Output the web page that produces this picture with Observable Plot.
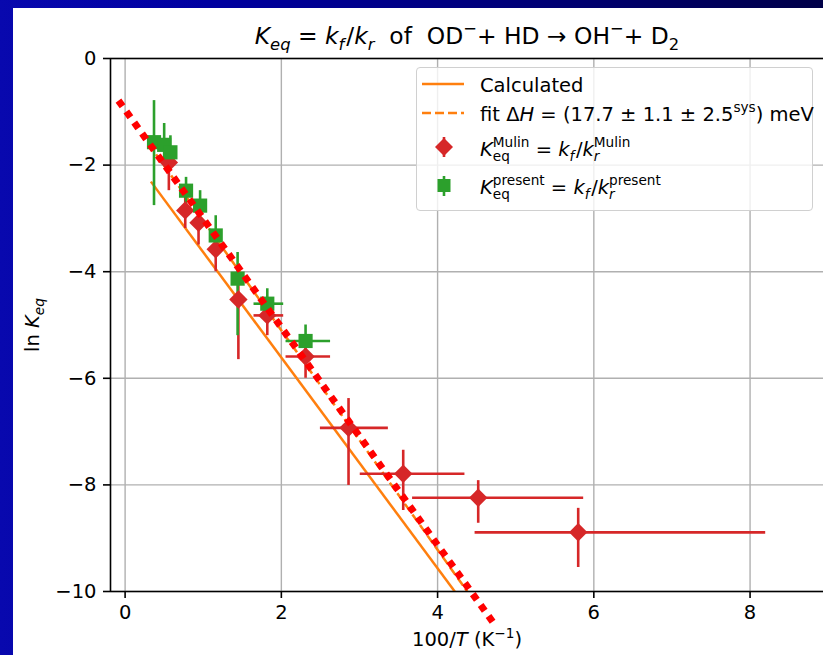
<!DOCTYPE html>
<html><head><meta charset="utf-8">
<script src="https://cdn.jsdelivr.net/npm/d3@7"></script>
<script src="https://cdn.jsdelivr.net/npm/@observablehq/plot@0.6"></script>
<style>
html,body{margin:0;padding:0}
body{width:823px;height:655px;overflow:hidden;position:relative;background:linear-gradient(to right,#0808ae 0%,#0000a0 25%,#000070 70%,#000048 100%);font-family:"DejaVu Sans",sans-serif;}
#chart{position:absolute;left:13px;top:8px;width:810px;height:647px;background:#fff;overflow:hidden}
#chart svg.plot{position:absolute;left:0;top:0}
.t{position:absolute;white-space:nowrap;color:#000;line-height:1;font-size:19.5px}
.sb{font-size:0.7em;position:relative;top:0.37em}
.sb.f{margin-right:0.12em}
.sp{font-size:0.7em;position:relative;top:-0.6em}
.ss{display:inline-grid;font-size:0.7em;line-height:0.85;vertical-align:baseline}
.ss>span{grid-area:1/1;position:relative}
.ss>.up{top:-0.59em}
.ss>.dn{top:0.4em}
#legend{position:absolute;left:403px;top:59px;width:395px;height:142px;border:1.3px solid #d0d0d0;border-radius:4px;background:rgba(255,255,255,0.8)}
</style>
</head><body>
<div id="chart"></div>
<script>
// ---- data ----
const xTicks = [0, 2, 4, 6, 8];
const yTicks = [0, -2, -4, -6, -8, -10];

const mulinX     = [0.56, 0.77, 0.94, 1.16, 1.45, 1.82, 2.31, 2.86, 3.56, 4.52, 5.80];
const mulinY     = [-1.95, -2.85, -3.08, -3.58, -4.52, -4.82, -5.59, -6.93, -7.79, -8.24, -8.89];
const mulinYLow  = [-2.48, -3.19, -3.50, -4.00, -5.65, -5.20, -6.00, -8.01, -8.48, -8.72, -9.55];
const mulinYHigh = [-1.60, -2.55, -2.75, -3.25, -3.90, -4.50, -5.25, -6.38, -7.35, -7.92, -8.44];
const mulinXLow  = [0.56, 0.77, 0.94, 1.16, 1.45, 1.65, 2.06, 2.50, 3.01, 3.68, 4.48];
const mulinXHigh = [0.56, 0.77, 0.94, 1.16, 1.45, 2.03, 2.63, 3.37, 4.35, 5.87, 8.20];

const presentX     = [0.37, 0.50, 0.58, 0.78, 0.96, 1.16, 1.44, 1.82, 2.31];
const presentY     = [-1.57, -1.62, -1.76, -2.48, -2.76, -3.32, -4.13, -4.60, -5.30];
const presentYLow  = [-2.76, -1.95, -2.10, -2.75, -3.05, -3.70, -5.20, -4.97, -5.42];
const presentYHigh = [-0.79, -1.22, -1.45, -2.23, -2.48, -2.95, -3.64, -4.32, -5.00];
const presentXLow  = [0.37, 0.50, 0.58, 0.78, 0.96, 1.16, 1.44, 1.65, 2.06];
const presentXHigh = [0.37, 0.50, 0.58, 0.78, 0.96, 1.16, 1.44, 2.03, 2.63];

const calcX = [0.33, 4.22];
const calcY = [-2.31, -10.0];
const fitX = [0.30, 4.38];
const fitY = [-1.60, -10.0];
const guideX = [-0.085, 4.74];
const guideY = [-0.79, -10.64];

const xMin = -0.187, xMax = 8.94, yMin = -10, yMax = 0;

// ---- build ----
const red = "#d62728", green = "#2ca02c", orange = "#ff7f0e";
const M = mulinX.map((x, i) => ({x, y: mulinY[i], y1: mulinYLow[i], y2: mulinYHigh[i], x1: mulinXLow[i], x2: mulinXHigh[i]}));
const P = presentX.map((x, i) => ({x, y: presentY[i], y1: presentYLow[i], y2: presentYHigh[i], x1: presentXLow[i], x2: presentXHigh[i]}));
const calc = calcX.map((x, i) => ({x, y: calcY[i]}));
const fit = fitX.map((x, i) => ({x, y: fitY[i]}));
const guide = guideX.map((x, i) => ({x, y: guideY[i]}));
const fmt = d => d < 0 ? "\u2212" + Math.abs(d) : String(d);

const plot = Plot.plot({
  width: 810, height: 647,
  marginLeft: 97, marginTop: 50, marginBottom: 64, marginRight: 0,
  x: {domain: [xMin, xMax]},
  y: {domain: [yMin, yMax]},
  style: {fontFamily: "DejaVu Sans", fontSize: "19.5px", color: "#000", background: "transparent", overflow: "visible"},
  marks: [
    Plot.gridX(xTicks, {stroke: "#b0b0b0", strokeOpacity: 1, strokeWidth: 1.4}),
    Plot.gridY(yTicks, {stroke: "#b0b0b0", strokeOpacity: 1, strokeWidth: 1.4}),
    Plot.line(calc, {x: "x", y: "y", stroke: orange, strokeWidth: 2.5, strokeLinecap: "butt", clip: true}),
    Plot.line(fit, {x: "x", y: "y", stroke: orange, strokeWidth: 2.5, strokeDasharray: "9,4", strokeLinecap: "butt", clip: true}),
    Plot.ruleY(M.filter(d => d.x2 > d.x1), {y: "y", x1: "x1", x2: "x2", stroke: red, strokeWidth: 2.6}),
    Plot.ruleX(M, {x: "x", y1: "y1", y2: "y2", stroke: red, strokeWidth: 2.6}),
    Plot.ruleY(P.filter(d => d.x2 > d.x1), {y: "y", x1: "x1", x2: "x2", stroke: green, strokeWidth: 2.6}),
    Plot.ruleX(P, {x: "x", y1: "y1", y2: "y2", stroke: green, strokeWidth: 2.6}),
    Plot.dot(M, {x: "x", y: "y", symbol: "diamond2", r: 8.3, fill: red}),
    Plot.dot(P, {x: "x", y: "y", symbol: "square", r: 8.0, fill: green}),
    Plot.line(guide, {x: "x", y: "y", stroke: "#ff0000", strokeWidth: 7, strokeDasharray: "7,6.5", strokeLinecap: "butt"}),
    Plot.ruleX([xMin], {stroke: "#000", strokeWidth: 1.6}),
    Plot.ruleY([yMin, yMax], {stroke: "#000", strokeWidth: 1.6}),
    Plot.axisX(xTicks, {tickSize: 7, tickPadding: 7, strokeWidth: 1.6, label: null, tickFormat: fmt, fontSize: 19.5}),
    Plot.axisY(yTicks, {tickSize: 7, tickPadding: 7, strokeWidth: 1.6, label: null, tickFormat: fmt, fontSize: 19.5})
  ]
});
const chart = document.getElementById("chart");
chart.appendChild(plot);

// ---- texts ----
function addText(html, css) {
  const d = document.createElement("div");
  d.className = "t";
  d.innerHTML = html;
  Object.assign(d.style, css);
  chart.appendChild(d);
  return d;
}
addText('<i>K</i><span class="sb"><i>eq</i></span> = <i>k</i><span class="sb f"><i>f</i></span>/<i>k</i><span class="sb"><i>r</i></span>&nbsp;&nbsp;of&nbsp;&nbsp;OD<span class="sp">\u2212</span>+ HD \u2192 OH<span class="sp">\u2212</span>+ D<span class="sb">2</span>',
  {left: "97px", width: "714px", textAlign: "center", top: "17px", fontSize: "23.4px"});
addText('100/<i>T</i> (K<span class="sp">\u22121</span>)',
  {left: "97px", width: "714px", textAlign: "center", top: "622px"});
addText('ln <i>K</i><span class="sb"><i>eq</i></span>',
  {left: "20px", top: "317px", transform: "translate(-50%,-50%) rotate(-90deg)"});

// ---- legend ----
const lg = document.createElement("div");
lg.id = "legend";
lg.innerHTML = `
<svg width="397" height="144" style="position:absolute;left:-1px;top:-1px">
  <line x1="6" x2="48" y1="17" y2="17" stroke="${orange}" stroke-width="2.5"/>
  <line x1="6" x2="48" y1="46" y2="46" stroke="${orange}" stroke-width="2.5" stroke-dasharray="9,4"/>
  <line x1="28" x2="28" y1="70" y2="90" stroke="${red}" stroke-width="2.6"/>
  <path d="M28,71 L37,80 L28,89 L19,80 Z" fill="${red}"/>
  <line x1="28" x2="28" y1="109" y2="129" stroke="${green}" stroke-width="2.6"/>
  <rect x="21.5" y="112" width="13" height="13" fill="${green}"/>
</svg>`;
chart.appendChild(lg);
function addRow(html, base) {
  const d = document.createElement("div");
  d.className = "t";
  d.innerHTML = html;
  Object.assign(d.style, {left: "63px", top: (base - 16.5) + "px"});
  lg.appendChild(d);
}
addRow('Calculated', 24);
addRow('fit \u0394<i>H</i> = (17.7 \u00b1 1.1 \u00b1 2.5<span class="sp">sys</span>) meV', 53);
addRow('<i>K</i><span class="ss"><span class="up">Mulin</span><span class="dn">eq</span></span> = <i>k</i><span class="sb f"><i>f</i></span>/<i>k</i><span class="ss"><span class="up">Mulin</span><span class="dn"><i>r</i></span></span>', 88);
addRow('<i>K</i><span class="ss"><span class="up">present</span><span class="dn">eq</span></span> = <i>k</i><span class="sb f"><i>f</i></span>/<i>k</i><span class="ss"><span class="up">present</span><span class="dn"><i>r</i></span></span>', 126);
</script>
</body></html>
